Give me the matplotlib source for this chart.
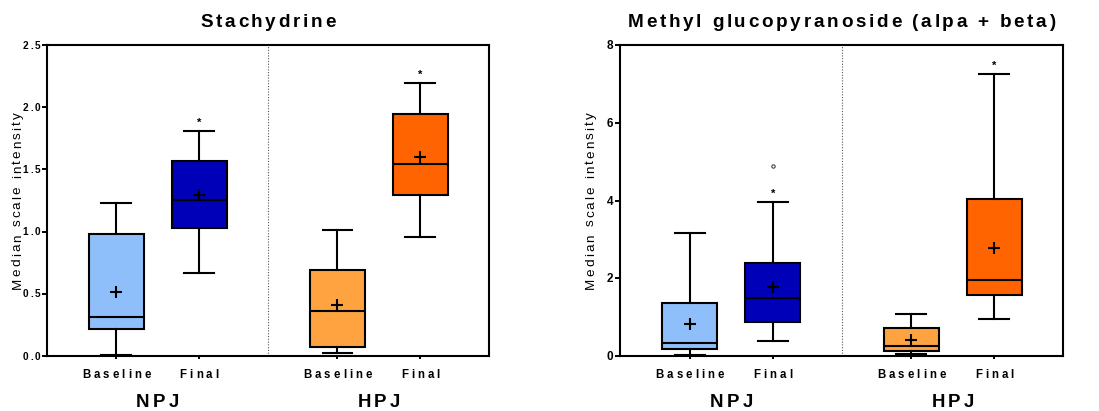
import matplotlib
matplotlib.use("Agg")  # non-interactive backend
import matplotlib.pyplot as plt
from matplotlib import font_manager
from matplotlib.font_manager import FontProperties
from matplotlib.ft2font import FT2Font
from matplotlib.transforms import ScaledTranslation

FONT = "Liberation Sans"
DPI = 100

GROUPS = ["NPJ", "HPJ"]
TIMEPOINTS = ["Baseline", "Final"]
POSITIONS = [0.0, 1.0, 2.67, 3.67]
COLORS = ["#8FBFFA", "#0000B8", "#FFA340", "#FF6400"]

# box order: NPJ Baseline, NPJ Final, HPJ Baseline, HPJ Final
STACH_WHISLO = [0.01, 0.67, 0.027, 0.96]
STACH_Q1 = [0.22, 1.03, 0.075, 1.295]
STACH_MED = [0.31, 1.255, 0.365, 1.54]
STACH_Q3 = [0.98, 1.568, 0.69, 1.945]
STACH_WHISHI = [1.232, 1.81, 1.013, 2.197]
STACH_MEAN = [0.515, 1.297, 0.412, 1.602]
STACH_STAR_BOX = [1, 3]
STACH_STAR_Y = [1.90, 2.29]
STACH_YTICKS = [0.0, 0.5, 1.0, 1.5, 2.0, 2.5]

MG_WHISLO = [0.02, 0.39, 0.06, 0.96]
MG_Q1 = [0.17, 0.875, 0.14, 1.56]
MG_MED = [0.34, 1.50, 0.26, 1.955]
MG_Q3 = [1.37, 2.38, 0.73, 4.05]
MG_WHISHI = [3.17, 3.97, 1.09, 7.26]
MG_MEAN = [0.82, 1.78, 0.42, 2.77]
MG_STAR_BOX = [1, 3]
MG_STAR_Y = [4.27, 7.55]
MG_CIRCLE_BOX = [1]
MG_CIRCLE_Y = [4.9]
MG_YTICKS = [0, 2, 4, 6, 8]


def _advances(text, prop):
    """Advance widths of each character, in points."""
    font = FT2Font(font_manager.findfont(prop))
    font.set_size(prop.get_size_in_points(), 72)
    return [font.load_char(ord(c)).linearHoriAdvance / 65536 for c in text]


def tracked_text(fig, x, y, text, transform, size, track, dx=0.0, dy=0.0,
                 weight="bold", ha="center", rotation=0):
    """Draw text with extra letter spacing (track, in points)."""
    prop = FontProperties(family=FONT, size=size, weight=weight)
    adv = _advances(text, prop)
    total = sum(adv) + track * (len(text) - 1)
    pos = {"center": -total / 2, "right": -total, "left": 0.0}[ha]
    for ch, a in zip(text, adv):
        ox, oy = (dx, dy + pos) if rotation else (dx + pos, dy)
        off = ScaledTranslation(ox / 72, oy / 72, fig.dpi_scale_trans)
        fig.text(x, y, ch, transform=transform + off, fontproperties=prop,
                 ha="left", va="baseline", rotation=rotation,
                 rotation_mode="anchor", color="black")
        pos += a + track


def draw_panel(fig, ax, title, whislo, q1, med, q3, whishi, mean, yticks,
               ylim, tick_fmt, tick_size, tick_track, star_box, star_y):
    stats = [
        dict(whislo=lo, q1=a, med=m, q3=b, whishi=hi, mean=mu, fliers=[])
        for lo, a, m, b, hi, mu in zip(whislo, q1, med, q3, whishi, mean)
    ]
    bp = ax.bxp(
        stats, positions=POSITIONS, widths=0.665, capwidths=0.36,
        patch_artist=True, showmeans=True, showfliers=False,
        boxprops=dict(edgecolor="black", linewidth=1.5),
        medianprops=dict(color="black", linewidth=1.5),
        whiskerprops=dict(color="black", linewidth=1.5),
        capprops=dict(color="black", linewidth=1.5),
        meanprops=dict(marker="+", markersize=9, markeredgewidth=1.5,
                       markeredgecolor="black"),
    )
    for patch, color in zip(bp["boxes"], COLORS):
        patch.set_facecolor(color)

    for i, y in zip(star_box, star_y):
        ax.annotate("*", (POSITIONS[i], y), xytext=(0, -0.58 * 8),
                    textcoords="offset points", ha="center", va="baseline",
                    fontsize=8, fontweight="bold", family=FONT)

    divider = (POSITIONS[1] + POSITIONS[2]) / 2
    ax.axvline(divider, color="#555555", linestyle=(0, (1, 1.5)), linewidth=0.8)

    ax.set_xlim(-0.84, 4.5)
    ax.set_ylim(*ylim)
    ax.set_xticks(POSITIONS)
    ax.set_yticks(yticks)
    ax.tick_params(labelbottom=False, labelleft=False, width=1.4)
    ax.tick_params(axis="y", length=3.5)
    ax.tick_params(axis="x", length=2.5)
    for spine in ax.spines.values():
        spine.set_linewidth(1.5)

    for t in yticks:
        tracked_text(fig, 0, t, tick_fmt.format(t), ax.get_yaxis_transform(),
                     tick_size, tick_track, dx=-4.8,
                     dy=-0.716 * tick_size / 2, ha="right")

    tracked_text(fig, 0.5, 1.0, title, ax.transAxes, 13.6, 1.95, dy=13.2)
    tracked_text(fig, 0.0, 0.5, "Median scale intensity", ax.transAxes, 9.7, 1.5,
                 dx=-18.7, weight="normal", rotation=90)
    xaxis = ax.get_xaxis_transform()
    for i, x in enumerate(POSITIONS):
        tracked_text(fig, x, 0.0, TIMEPOINTS[i % 2], xaxis, 8.3, 2.2, dy=-15.6)
    for g, name in enumerate(GROUPS):
        x = (POSITIONS[2 * g] + POSITIONS[2 * g + 1]) / 2
        tracked_text(fig, x, 0.0, name, xaxis, 13.4, 2.5, dy=-36.5)


fig = plt.figure(figsize=(10.99, 4.11), dpi=DPI)
fig.patch.set_facecolor("white")
ax1 = fig.add_axes([0.0425, 0.1338, 0.4025, 0.7567])
ax2 = fig.add_axes([0.5641, 0.1338, 0.4034, 0.7567])

draw_panel(fig, ax1, "Stachydrine", STACH_WHISLO, STACH_Q1, STACH_MED, STACH_Q3,
           STACH_WHISHI, STACH_MEAN, STACH_YTICKS, (0, 2.5), "{:.1f}", 7.2, 1.2,
           STACH_STAR_BOX, STACH_STAR_Y)
draw_panel(fig, ax2, "Methyl glucopyranoside (alpa + beta)", MG_WHISLO, MG_Q1,
           MG_MED, MG_Q3, MG_WHISHI, MG_MEAN, MG_YTICKS, (0, 8), "{:d}", 8.5, 1.2,
           MG_STAR_BOX, MG_STAR_Y)
for i, y in zip(MG_CIRCLE_BOX, MG_CIRCLE_Y):
    ax2.plot(POSITIONS[i], y, "o", markersize=2.4, markerfacecolor="none",
             markeredgecolor="#444444", markeredgewidth=0.8)

fig.savefig("out.png", dpi=DPI, facecolor="white")
